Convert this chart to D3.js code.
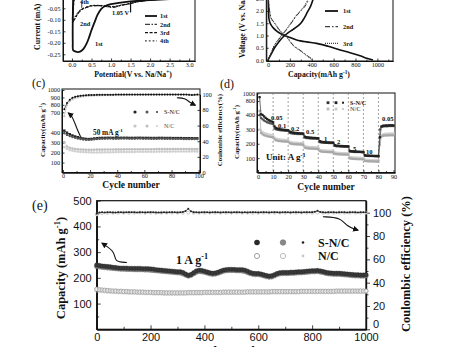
<!DOCTYPE html>
<html><head><meta charset="utf-8">
<script src="https://cdn.jsdelivr.net/npm/d3@7"></script>
<style>body{margin:0;background:#fff}svg{display:block}</style>
</head><body>
<svg id="fig" width="458" height="347"></svg>
<script>
// ---------------- DATA ----------------
// (a) cyclic voltammetry: potential (V) and current (mA)
const aV1 = [3.1,2.5,2.0,1.5,1.2,1.0,0.85,0.75,0.65,0.58,0.5,0.43,0.37,0.3,0.22,0.15,0.08,0.03,0.02,0.02,0.03];
const aI1 = [-0.008,-0.01,-0.014,-0.02,-0.026,-0.032,-0.04,-0.052,-0.08,-0.11,-0.145,-0.18,-0.205,-0.225,-0.237,-0.24,-0.237,-0.232,-0.2,-0.1,0.0];
const aStepV = [1.5,1.5];
const aStepI = [-0.02,-0.068];
const aVn = [3.1,2.0,1.6,1.5,1.3,1.05,0.9,0.7,0.5,0.4,0.3,0.2,0.1,0.05,0.02,0.03,0.06];
const aI2 = [-0.005,-0.015,-0.025,-0.03,-0.036,-0.046,-0.043,-0.039,-0.04,-0.045,-0.052,-0.064,-0.09,-0.104,-0.112,-0.06,0.0];
const aI3 = [-0.005,-0.014,-0.024,-0.029,-0.035,-0.044,-0.041,-0.038,-0.039,-0.044,-0.05,-0.061,-0.086,-0.099,-0.104,-0.055,0.0];
const aI4 = [-0.004,-0.013,-0.023,-0.028,-0.034,-0.042,-0.04,-0.037,-0.038,-0.043,-0.049,-0.058,-0.081,-0.093,-0.097,-0.05,0.0];
const aXTicks = [0,0.5,1.0,1.5,2.0,2.5,3.0];
const aYTicks = [-0.25,-0.20,-0.15,-0.10,-0.05];
const aLegend = ["1st","2nd","3rd","4th"];

// (b) charge/discharge profiles: capacity (mAh/g), voltage (V)
const b1dC = [0,2,4,6,10,25,50,80,110,150,200,262,350,445,550,659,750,850,903,960];
const b1dV = [3.0,2.6,2.2,1.9,1.65,1.45,1.3,1.18,1.09,1.0,0.92,0.82,0.74,0.68,0.56,0.41,0.3,0.16,0.07,0.0];
const b1cC = [0,30,60,100,140,180,230,270,300,330,360,390,410,425,435];
const b1cV = [0.0,0.25,0.5,0.75,0.95,1.1,1.25,1.38,1.5,1.7,1.95,2.2,2.45,2.7,3.0];
const b2dC = [0,5,15,30,64,110,167,232,300,369,400,412];
const b2dV = [3.0,2.4,2.0,1.7,1.5,1.2,0.98,0.6,0.38,0.15,0.05,0.0];
const b2cC = [0,30,60,100,140,180,220,260,300,340,370,390,400];
const b2cV = [0.0,0.3,0.6,0.85,1.08,1.3,1.55,1.8,2.0,2.2,2.45,2.7,3.0];
const b3dC = [0,5,15,30,64,110,167,232,300,360,390,400];
const b3dV = [3.0,2.4,2.0,1.68,1.47,1.18,0.95,0.58,0.36,0.15,0.05,0.0];
const b3cC = [0,30,60,100,140,180,220,260,300,335,365,385,395];
const b3cV = [0.0,0.31,0.62,0.87,1.1,1.33,1.58,1.83,2.03,2.23,2.47,2.72,3.0];
const bXTicks = [0,200,400,600,800,1000];
const bYTicks = [0.0,0.5,1.0,1.5,2.0,2.5];
const bLegend = ["1st","2nd","3rd"];

// (c) cycling at 50 mA/g (cycles 1,3,...,99)
const cSNCd = [430,400,385,372,362,355,348,342,338,336,338,342,345,347,348,348,349,349,348,348,348,349,349,349,348,348,348,349,349,348,348,348,347,347,347,348,348,347,347,347,346,346,346,346,345,345,345,345,344,344];
const cSNCc = [395,378,366,356,348,342,336,332,329,328,330,334,337,339,340,340,341,341,340,340,340,341,341,341,340,340,340,341,341,340,340,340,339,339,339,340,340,339,339,339,338,338,338,338,337,337,337,337,336,336];
const cNCd = [305,262,248,240,236,233,231,230,229,229,229,229,230,230,230,231,231,231,231,232,232,232,232,233,233,233,233,233,234,234,234,234,234,234,235,235,235,235,235,235,235,236,236,236,236,236,236,236,236,236];
const cNCc = [255,236,225,218,213,210,207,205,204,203,202,201,201,202,202,203,203,204,204,205,205,206,206,206,207,207,207,208,208,208,208,209,209,209,209,210,210,210,210,210,211,211,211,211,211,211,212,212,212,212];
const cSNCce = [81,89,93,95.5,96.8,97.6,98.1,98.5,98.8,99,99.1,99.2,99.3,99.3,99.4,99.4,99.5,99.5,99.5,99.6,99.6,99.6,99.6,99.7,99.7,99.7,99.7,99.7,99.7,99.7,99.8,99.8,99.8,99.8,99.8,99.8,99.8,99.8,99.8,99.8,99.8,99.8,99.8,99.8,99.8,99.7,99.4,99.0,99.3,99.6];
const cNCce = [72,86,91,93.5,95,96,96.8,97.3,97.7,98,98.2,98.4,98.5,98.6,98.7,98.8,98.8,98.9,98.9,99,99,99,99,99.1,99.1,99.1,99.1,99.2,99.2,99.2,99.2,99.2,99.2,99.3,99.3,99.3,99.3,99.3,99.3,99.3,99.3,99.3,99.4,99.4,99.4,99.4,99.4,99.4,99.4,99.4];
const cXTicks = [0,20,40,60,80,100];
const cYTicks = [100,200,300,400,700,800,900,1000];
const cCETicks = [0,20,40,60,80,100];

// (d) rate capability (cycles 1..90)
const dSNCd = [900,420,400,390,380,372,365,360,355,350,320,310,305,302,300,298,297,296,295,294,285,280,278,276,275,274,273,272,272,271,250,246,244,243,242,241,240,240,239,239,218,214,212,211,210,209,209,208,208,207,190,187,186,185,184,184,183,183,182,182,150,148,147,146,145,145,144,144,143,143,120,118,117,117,116,116,115,115,115,114,245,320,325,326,327,327,328,328,328,327];
const dSNCc = [400,380,370,362,356,350,346,342,340,338,305,300,297,295,294,293,292,291,290,290,276,273,271,270,269,268,268,267,267,266,243,240,239,238,237,237,236,236,235,235,211,209,208,207,206,206,205,205,205,204,185,183,182,182,181,181,180,180,180,179,146,145,144,143,143,142,142,142,141,141,117,116,115,115,114,114,114,113,113,113,300,318,320,321,322,322,323,323,323,323];
const dNCd = [520,275,266,260,256,253,250,248,246,245,230,224,221,219,218,217,216,215,215,214,203,200,198,197,196,196,195,195,194,194,173,170,168,167,166,166,165,165,164,164,149,146,144,143,143,142,142,141,141,141,130,128,127,126,126,125,125,125,124,124,98,96,95,94,94,93,93,93,92,92,81,79,78,78,77,77,77,76,76,76,195,250,255,257,258,258,259,259,259,259];
const dNCc = [300,290,282,276,272,268,265,263,261,260,242,236,233,231,230,229,228,227,227,226,214,211,209,208,207,207,206,206,205,205,184,181,179,178,177,177,176,176,175,175,159,156,154,153,153,152,152,151,151,151,140,138,137,136,136,135,135,135,134,134,108,106,105,104,104,103,103,103,102,102,90,88,87,87,86,86,86,85,85,85,210,262,267,269,270,270,271,271,271,271];
const dRates = ["0.05","0.1","0.2","0.5","1","2","5","10","0.05"];
const dXTicks = [0,10,20,30,40,50,60,70,80,90];
const dYTicks = [100,200,300,400,800,1000];

// (e) long cycling at 1 A/g (cycles 0,10,...,1000)
const eSNCd = [250,248,246,245,244,243,241,240,239,238,238,238,237,237,237,237,237,236,236,236,235,234,232,231,230,229,228,227,226,225,224,224,221,215,210,213,220,227,230,229,226,223,220,218,219,222,226,230,232,233,233,233,232,232,232,230,226,221,218,217,217,215,212,209,207,208,212,217,220,221,221,221,222,222,223,224,224,225,226,227,228,228,229,227,225,222,220,219,218,218,218,217,216,215,214,213,212,212,211,211,212];
const eSNCc = [244,243,241,240,239,238,237,236,235,234,234,233,233,233,232,232,232,232,231,231,230,229,228,227,226,225,224,223,222,221,220,219,216,211,207,210,216,222,225,224,222,219,216,214,215,218,222,226,228,229,229,229,228,228,227,225,221,217,214,213,213,211,208,205,203,204,208,213,216,217,217,217,218,218,219,220,220,221,222,223,224,224,225,223,221,218,216,215,214,214,214,213,212,211,210,209,208,208,207,207,208];
const eNCd = [156,154,153,152,151,150,149,149,148,148,147,147,146,146,146,145,145,145,144,144,144,143,143,143,143,142,142,142,142,142,142,142,142,142,143,143,143,143,143,143,144,144,144,144,144,144,144,145,145,145,145,145,145,145,145,145,146,146,146,146,146,146,146,146,146,147,147,147,147,147,147,147,147,147,147,147,148,148,148,148,148,148,148,148,148,148,148,148,148,149,149,149,149,149,149,149,149,149,149,149,149];
const eNCc = [152,151,150,149,148,148,147,147,146,146,145,145,144,144,144,143,143,143,142,142,142,141,141,141,141,140,140,140,140,140,140,140,140,140,141,141,141,141,141,141,142,142,142,142,142,142,142,143,143,143,143,143,143,143,143,143,144,144,144,144,144,144,144,144,144,145,145,145,145,145,145,145,145,145,145,145,146,146,146,146,146,146,146,146,146,146,146,146,146,147,147,147,147,147,147,147,147,147,147,147,147];
const eSNCce = [99.2,100.1,100.3,100.2,100.4,100.3,100.2,100.1,100.3,100.4,100.2,100.3,100.5,100.4,100.3,100.2,100.4,100.3,100.2,100.3,100.4,100.3,100.2,100.1,100.2,100.3,100.2,100.3,100.4,100.3,100.2,100.4,100.6,101.5,103.3,101.2,100.4,100.3,100.2,100.3,100.4,100.3,100.2,100.3,100.4,100.3,100.2,100.3,100.4,100.3,100.2,100.3,100.4,100.3,100.2,100.3,100.2,100.3,100.4,100.3,100.2,100.3,100.4,100.3,100.2,100.3,100.4,100.3,100.2,100.3,100.4,100.3,100.2,100.3,100.4,100.3,100.2,100.3,100.4,100.3,100.5,100.8,101.6,100.7,100.3,100.2,100.3,100.4,100.3,100.2,100.3,100.4,100.3,100.2,100.3,100.4,100.3,100.2,100.3,100.4,100.3];
const eNCce = [98.5,99.6,99.8,99.9,100,100,99.9,100,100.1,100,100,99.9,100,100.1,100,100,99.9,100,100,100,100,100.1,100,99.9,100,100,100.1,100,100,99.9,100,100,100.1,100,100,99.9,100,100,100.1,100,100,100,99.9,100,100,100.1,100,100,100,99.9,100];
const eXTicks = [0,200,400,600,800,1000];
const eYTicks = [100,200,300,400,500];
const eCETicks = [0,20,40,60,80,100];

// ---------------- HELPERS ----------------
const SERIF = "'Liberation Serif','Times New Roman',Times,serif";
const SANS = "'Liberation Sans',Arial,Helvetica,sans-serif";
const svg = d3.select('#fig');
svg.append('rect').attr('width',458).attr('height',347).attr('fill','#fff');
const defs = svg.append('defs');
defs.append('marker').attr('id','ah').attr('viewBox','0 0 10 10').attr('refX',8).attr('refY',5)
  .attr('markerWidth',6).attr('markerHeight',6).attr('markerUnits','userSpaceOnUse').attr('orient','auto')
  .append('path').attr('d','M0,0 L10,5 L0,10 z').attr('fill','#111');

function rich(t, s, size){
  const parts = s.split(/(\^\{[^}]*\})/).filter(p=>p.length);
  let up = false;
  parts.forEach(p=>{
    if(p.startsWith('^{')){
      t.append('tspan').attr('dy',-size*0.38).attr('font-size',size*0.68).text(p.slice(2,-1));
      up = true;
    } else {
      const ts = t.append('tspan').text(p);
      if(up){ ts.attr('dy',size*0.38); up=false; }
    }
  });
  return t;
}
function label(g,x,y,s,size,o={}){
  const t = g.append('text').attr('x',x).attr('y',y)
    .attr('font-family',o.family||SERIF).attr('font-size',size)
    .attr('font-weight',o.weight||'bold').attr('fill',o.fill||'#111')
    .attr('text-anchor',o.anchor||'start');
  if(o.rotate!==undefined) t.attr('transform',`rotate(${o.rotate},${x},${y})`);
  return rich(t,s,size);
}
function axis(g, gen, tx, ty, o={}){
  const a = g.append('g').attr('transform',`translate(${tx},${ty})`).call(gen);
  a.select('.domain').attr('stroke','#111').attr('stroke-width',o.sw||1);
  a.selectAll('.tick line').attr('stroke','#111').attr('stroke-width',o.tw||0.8);
  a.selectAll('.tick text').attr('font-family',o.family||SERIF).attr('font-size',o.size||6.2)
    .attr('font-weight',o.weight||'normal').attr('fill','#111');
  return a;
}
function frame(g,x0,x1,y0,y1,sw){
  g.append('rect').attr('x',x0).attr('y',y0).attr('width',x1-x0).attr('height',y1-y0)
   .attr('fill','none').attr('stroke','#111').attr('stroke-width',sw||1);
}
function curve(g, xs, ys, x, y, o){
  const pts = xs.map((v,i)=>[x(v), y(ys[i])]);
  const p = g.append('path').attr('d', d3.line().curve(o.curve||d3.curveCatmullRom)(pts))
    .attr('fill','none').attr('stroke',o.stroke||'#111').attr('stroke-width',o.sw||1);
  if(o.dash) p.attr('stroke-dasharray',o.dash);
  return p;
}
function markers(g, xs, ys, x, y, o){
  if(o.line){
    g.append('path').attr('d', d3.line()(xs.map((v,i)=>[x(v),y(ys[i])])))
     .attr('fill','none').attr('stroke',o.line).attr('stroke-width',o.lw||0.7);
  }
  xs.forEach((v,i)=>{
    const cx = x(v), cy = y(ys[i]);
    if(o.shape==='square'){
      g.append('rect').attr('x',cx-o.r).attr('y',cy-o.r).attr('width',2*o.r).attr('height',2*o.r)
       .attr('fill',o.fill).attr('stroke',o.stroke||'none').attr('stroke-width',o.ssw||0.4);
    } else {
      g.append('circle').attr('cx',cx).attr('cy',cy).attr('r',o.r)
       .attr('fill',o.fill).attr('stroke',o.stroke||'none').attr('stroke-width',o.ssw||0.5);
    }
  });
}
function arrow(g, pts){
  g.append('path').attr('d', d3.line().curve(d3.curveBasis)(pts))
   .attr('fill','none').attr('stroke','#111').attr('stroke-width',1.1).attr('marker-end','url(#ah)');
}

// ---------------- PANEL (a) ----------------
{
  const g = svg.append('g');
  const x = d3.scaleLinear().domain([-0.23,3.15]).range([63,195]);
  const y = d3.scaleLinear().domain([-0.279,0.0]).range([61,-3.2]);
  frame(g,63,195,-3.2,61);
  axis(g, d3.axisBottom(x).tickValues(aXTicks).tickFormat(d=>d.toFixed(1)).tickSize(-2.5).tickSizeOuter(0).tickPadding(1.8), 0, 61, {size:6.2});
  axis(g, d3.axisBottom(x).tickValues([0.25,0.75,1.25,1.75,2.25,2.75]).tickFormat('').tickSize(-1.5).tickSizeOuter(0), 0, 61, {});
  axis(g, d3.axisLeft(y).tickValues(aYTicks).tickFormat(d=>d.toFixed(2).replace('\u2212','-')).tickSize(-2.5).tickSizeOuter(0).tickPadding(2.5), 63, 0, {size:6.2});
  curve(g, aV1, aI1, x, y, {sw:1.8});
  curve(g, aStepV, aStepI, x, y, {sw:1.2, curve:d3.curveLinear});
  curve(g, aVn, aI2, x, y, {sw:1, dash:'5,1.5,1.5,1.5'});
  curve(g, aVn, aI3, x, y, {sw:1.2, dash:'3,1.6'});
  curve(g, aVn, aI4, x, y, {sw:1, dash:'1.8,2'});
  const dashes = [null,'5,1.5,1.5,1.5','3,1.6','1.8,2'];
  const widths = [1.8,1,1.2,1];
  aLegend.forEach((s,i)=>{
    const ly = 16 + i*8.3;
    const l = g.append('line').attr('x1',145).attr('x2',157).attr('y1',ly).attr('y2',ly)
      .attr('stroke','#111').attr('stroke-width',widths[i]);
    if(dashes[i]) l.attr('stroke-dasharray',dashes[i]);
    label(g,160,ly+2.2,s,6.3);
  });
  label(g,80,4,'4th',6.3);
  g.append('line').attr('x1',x(0.25)).attr('x2',x(0.25)).attr('y1',y(-0.02)).attr('y2',y(-0.048)).attr('stroke','#111').attr('stroke-width',0.8);
  label(g,80,25.5,'2nd',6.3);
  label(g,112,15,'1.05 V',6.3);
  label(g,95,45.5,'1st',6.3);
  label(g,133,76.5,'Potential(V vs. Na/Na^{+})',7.8,{anchor:'middle'});
  label(g,40,50,'Current (mA)',7.8,{rotate:-90});
}

// ---------------- PANEL (b) ----------------
{
  const g = svg.append('g');
  const x = d3.scaleLinear().domain([-15.5,1143]).range([266.3,393]);
  const y = d3.scaleLinear().domain([-0.04,3.0]).range([61,-13.5]);
  frame(g,266.3,393,-13.5,61);
  axis(g, d3.axisBottom(x).tickValues(bXTicks).tickFormat(d3.format('d')).tickSize(-2.5).tickSizeOuter(0).tickPadding(1.8), 0, 61, {size:6.2});
  axis(g, d3.axisBottom(x).tickValues([100,300,500,700,900,1100]).tickFormat('').tickSize(-1.5).tickSizeOuter(0), 0, 61, {});
  axis(g, d3.axisLeft(y).tickValues(bYTicks).tickFormat(d=>d.toFixed(1)).tickSize(-2.5).tickSizeOuter(0).tickPadding(2.5), 266.3, 0, {size:6.2});
  curve(g, b1dC, b1dV, x, y, {sw:1.6});
  curve(g, b1cC, b1cV, x, y, {sw:1.6});
  curve(g, b2dC, b2dV, x, y, {sw:1, dash:'5,2,1.5,2', stroke:'#333'});
  curve(g, b2cC, b2cV, x, y, {sw:1, dash:'5,2,1.5,2', stroke:'#333'});
  curve(g, b3dC, b3dV, x, y, {sw:1, dash:'1,1', stroke:'#333'});
  curve(g, b3cC, b3cV, x, y, {sw:1, dash:'1,1', stroke:'#333'});
  const dashes = [null,'5,2,1.5,2','1,1'];
  bLegend.forEach((s,i)=>{
    const ly = [11,26.7,43.3][i];
    const l = g.append('line').attr('x1',325).attr('x2',338).attr('y1',ly).attr('y2',ly)
      .attr('stroke','#111').attr('stroke-width',i===0?1.8:1);
    if(dashes[i]) l.attr('stroke-dasharray',dashes[i]);
    label(g,343,ly+2.2,s,6.3);
  });
  label(g,319,76.5,'Capacity(mAh g^{-1})',7.8,{anchor:'middle'});
  label(g,245,58,'Voltage (V vs. Na/Na^{+})',7.8,{rotate:-90});
}

// ---------------- PANEL (c) ----------------
{
  const g = svg.append('g');
  label(g,32,87,'(c)',12,{weight:'normal'});
  const x = d3.scaleLinear().domain([-0.7,101]).range([62,200]);
  const y = d3.scaleLinear().domain([0,400,700,1000]).range([172.5,132.7,112.3,90]);
  const yce = d3.scaleLinear().domain([0,100]).range([172.5,94.3]);
  frame(g,62,200,89,172.5);
  axis(g, d3.axisBottom(x).tickValues(cXTicks).tickFormat(d3.format('d')).tickSize(-2.5).tickSizeOuter(0).tickPadding(1.2), 0, 172.5, {size:6.2});
  axis(g, d3.axisBottom(x).tickValues([10,30,50,70,90]).tickFormat('').tickSize(-1.5).tickSizeOuter(0), 0, 172.5, {});
  axis(g, d3.axisLeft(y).tickValues(cYTicks).tickFormat(d3.format('d')).tickSize(-2.5).tickSizeOuter(0).tickPadding(2), 62, 0, {size:6.2});
  axis(g, d3.axisRight(yce).tickValues(cCETicks).tickFormat(d3.format('d')).tickSize(-2.5).tickSizeOuter(0).tickPadding(2.5), 200, 0, {size:6.2});
  const cyc = d3.range(1,100,2);
  markers(g, cyc, cNCce, x, yce, {shape:'circle', r:1.1, fill:'#c4c4c4', line:'#c4c4c4'});
  markers(g, cyc, cNCd, x, y, {shape:'circle', r:1.3, fill:'#bdbdbd', line:'#c8c8c8'});
  markers(g, cyc, cNCc, x, y, {shape:'circle', r:1.3, fill:'#d0d0d0', line:'#d5d5d5'});
  markers(g, cyc, cSNCd, x, y, {shape:'square', r:1.2, fill:'#222', line:'#333'});
  markers(g, cyc, cSNCc, x, y, {shape:'circle', r:1.2, fill:'#555', line:'#555'});
  markers(g, cyc, cSNCce, x, yce, {shape:'circle', r:1.0, fill:'#111', line:'#222'});
  [[135,'#222',1.6],[147,'#555',1.5],[157,'#222',0.9]].forEach(m=>g.append('circle').attr('cx',m[0]).attr('cy',112).attr('r',m[2]).attr('fill',m[1]));
  [[135,'#c4c4c4',1.6],[147,'#bdbdbd',1.5],[157,'#cfcfcf',1.1]].forEach(m=>g.append('circle').attr('cx',m[0]).attr('cy',126).attr('r',m[2]).attr('fill',m[1]));
  label(g,164,114.2,'S-N/C',6.2,{weight:'normal'});
  label(g,164,128.2,'N/C',6.2,{weight:'normal',fill:'#555'});
  label(g,93,135,'50 mA g^{-1}',7.3);
  arrow(g, [[x(13),y(360)],[x(10),y(470)],[x(7),y(640)],[x(4),y(690)]]);
  arrow(g, [[x(84),yce(95.5)],[x(90),yce(95)],[x(93),yce(90)],[x(97.5),yce(86)]]);
  label(g,131,187.5,'Cycle number',9.5,{anchor:'middle'});
  label(g,45,130,'Capacity(mAh g^{-1})',6.8,{rotate:-90,anchor:'middle'});
  label(g,222,130,'Coulombic efficiency(%)',6.8,{rotate:-90,anchor:'middle'});
}

// ---------------- PANEL (d) ----------------
{
  const g = svg.append('g');
  label(g,220,88,'(d)',12,{weight:'normal'});
  const x = d3.scaleLinear().domain([-0.7,91]).range([257,395]);
  const y = d3.scaleLinear().domain([0,400,800,1000]).range([172.5,115,101,93.3]);
  frame(g,257,395,93,172.5);
  dXTicks.slice(1,9).forEach(c=>{
    g.append('line').attr('x1',x(c)).attr('x2',x(c)).attr('y1',93).attr('y2',172.5)
     .attr('stroke','#777').attr('stroke-width',0.7).attr('stroke-dasharray','2,2');
  });
  axis(g, d3.axisBottom(x).tickValues(dXTicks).tickFormat(d3.format('d')).tickSize(-2.5).tickSizeOuter(0).tickPadding(1.8), 0, 172.5, {size:6.2});
  axis(g, d3.axisBottom(x).tickValues([5,15,25,35,45,55,65,75,85]).tickFormat('').tickSize(-1.5).tickSizeOuter(0), 0, 172.5, {});
  axis(g, d3.axisLeft(y).tickValues(dYTicks).tickFormat(d3.format('d')).tickSize(-2.5).tickSizeOuter(0).tickPadding(2), 257, 0, {size:6.2});
  const cyc = d3.range(1,91);
  markers(g, cyc, dNCc, x, y, {shape:'circle', r:1.2, fill:'#cfcfcf', line:'#d2d2d2'});
  markers(g, cyc, dNCd, x, y, {shape:'square', r:1.1, fill:'#a8a8a8', line:'#aaa'});
  markers(g, cyc, dSNCc, x, y, {shape:'circle', r:1.2, fill:'#555', line:'#555'});
  markers(g, cyc, dSNCd, x, y, {shape:'square', r:1.15, fill:'#222', line:'#333'});
  [[328,'#333',1.4],[336,'#222',1.4],[343,'#222',1.0]].forEach(m=>g.append('rect').attr('x',m[0]-m[2]).attr('y',102.7-m[2]).attr('width',2*m[2]).attr('height',2*m[2]).attr('fill',m[1]));
  [[328,'#bbb',1.4],[336,'#c8c8c8',1.4],[343,'#ccc',1.0]].forEach(m=>g.append('rect').attr('x',m[0]-m[2]).attr('y',109-m[2]).attr('width',2*m[2]).attr('height',2*m[2]).attr('fill',m[1]));
  label(g,350,104.8,'S-N/C',6.2);
  label(g,350,111.2,'N/C',6.2,{fill:'#666'});
  const rp = [[271,119.5],[278,128],[291,130.5],[306,134],[324,140.5],[337,143.5],[353,151],[366,153.5],[382,121]];
  dRates.forEach((s,i)=>label(g,rp[i][0],rp[i][1],s,6.6));
  label(g,266,160,'Unit: A g^{-1}',9);
  label(g,326,190,'Cycle number',9.5,{anchor:'middle'});
  label(g,238.5,132,'Capacity(mAh g^{-1})',6.8,{rotate:-90,anchor:'middle'});
}

// ---------------- PANEL (e) ----------------
{
  const g = svg.append('g');
  label(g,32,210,'(e)',14,{weight:'normal'});
  const x = d3.scaleLinear().domain([0,1000]).range([96.7,366]);
  const y = d3.scaleLinear().domain([0,500]).range([329.3,200.7]);
  const yce = d3.scaleLinear().domain([0,110.3]).range([329.3,200.7]);
  frame(g,96.7,366,200.7,329.3,1.2);
  axis(g, d3.axisBottom(x).tickValues(eXTicks).tickFormat(d3.format('d')).tickSize(-4).tickSizeOuter(0).tickPadding(4.2), 0, 329.3, {size:11, family:SANS, sw:1.2});
  axis(g, d3.axisBottom(x).tickValues([100,300,500,700,900]).tickFormat('').tickSize(-2.5).tickSizeOuter(0), 0, 329.3, {sw:1.2});
  axis(g, d3.axisLeft(y).tickValues(eYTicks).tickFormat(d3.format('d')).tickSize(-4).tickSizeOuter(0).tickPadding(5), 96.7, 0, {size:11, family:SANS, sw:1.2});
  axis(g, d3.axisLeft(y).tickValues([50,150,250,350,450]).tickFormat('').tickSize(-2.5).tickSizeOuter(0), 96.7, 0, {sw:1.2});
  const ra = axis(g, d3.axisRight(yce).tickValues(eCETicks).tickFormat(d3.format('d')).tickSize(4).tickSizeOuter(0).tickPadding(3), 366, 0, {size:11, family:SANS, sw:1.2});
  ra.selectAll('.tick text').filter(d=>d===0).attr('dy','-0.2em');
  axis(g, d3.axisRight(yce).tickValues([10,30,50,70,90]).tickFormat('').tickSize(2.5).tickSizeOuter(0), 366, 0, {sw:1.2});
  const cyc = d3.range(0,1001,10);
  const cyc20 = d3.range(0,1001,20);
  markers(g, cyc, eNCd, x, y, {shape:'circle', r:2.1, fill:'#fff', stroke:'#8a8a8a', ssw:0.7});
  markers(g, cyc, eNCc, x, y, {shape:'circle', r:2.1, fill:'none', stroke:'#b5b5b5', ssw:0.6});
  markers(g, cyc, eSNCc, x, y, {shape:'circle', r:2.3, fill:'#8a8a8a', stroke:'#666', ssw:0.5});
  markers(g, cyc, eSNCd, x, y, {shape:'circle', r:2.2, fill:'#3a3a3a', stroke:'#222', ssw:0.4});
  markers(g, cyc20, eNCce, x, yce, {shape:'circle', r:1.5, fill:'#fff', stroke:'#aaa', ssw:0.6});
  markers(g, cyc, eSNCce, x, yce, {shape:'circle', r:1.0, fill:'#222', line:'#333', lw:0.8});
  g.append('circle').attr('cx',257).attr('cy',242.5).attr('r',2.8).attr('fill','#2a2a2a');
  g.append('circle').attr('cx',283).attr('cy',242.5).attr('r',2.8).attr('fill','#888').attr('stroke','#666').attr('stroke-width',0.5);
  g.append('circle').attr('cx',303).attr('cy',242.5).attr('r',1.3).attr('fill','#222');
  g.append('circle').attr('cx',257).attr('cy',256).attr('r',2.6).attr('fill','#fff').attr('stroke','#888').attr('stroke-width',0.8);
  g.append('circle').attr('cx',283).attr('cy',256).attr('r',2.6).attr('fill','#fff').attr('stroke','#aaa').attr('stroke-width',0.8);
  g.append('circle').attr('cx',303).attr('cy',256).attr('r',1.4).attr('fill','#c8c8c8');
  label(g,318,246.5,'S-N/C',12);
  label(g,318,260,'N/C',12);
  label(g,176,264,'1 A g^{-1}',12);
  arrow(g, [[x(112),y(260)],[x(65),y(262)],[x(70),y(300)],[x(20),y(335)]]);
  arrow(g, [[x(840),yce(96.5)],[x(905),yce(96)],[x(930),yce(88)],[x(970),yce(85)]]);
  label(g,231,355,'Cycle number',13,{anchor:'middle'});
  label(g,65,268,'Capacity (mAh g^{-1})',12.5,{rotate:-90,anchor:'middle'});
  label(g,410,264,'Coulombic efficiency (%)',12.5,{rotate:-90,anchor:'middle'});
}
</script>
</body></html>
